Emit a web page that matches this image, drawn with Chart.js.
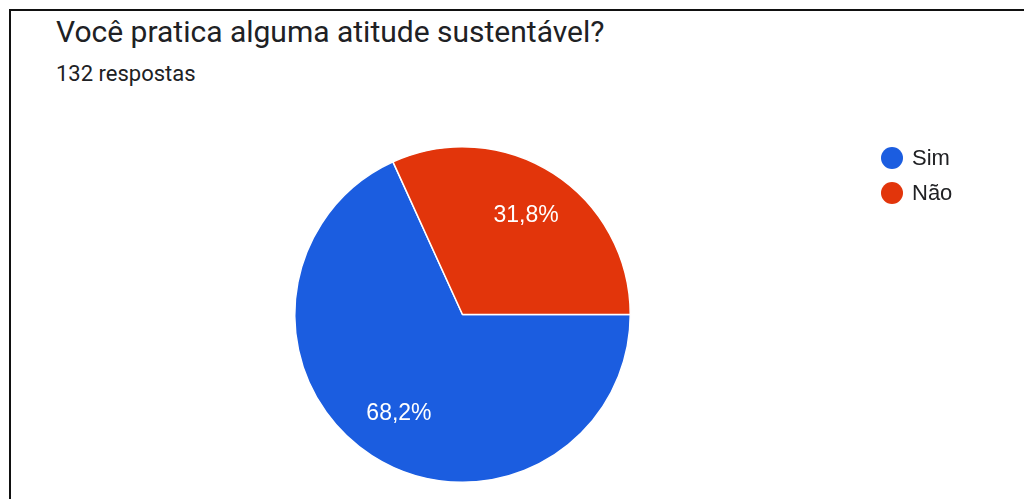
<!DOCTYPE html>
<html><head><meta charset="utf-8">
<script src="https://cdn.jsdelivr.net/npm/chart.js@4"></script>
<style>
html,body{margin:0;padding:0;background:#fff;width:1024px;height:499px;overflow:hidden;font-family:Roboto,"Noto Sans",sans-serif;}
#frame{position:absolute;left:9px;top:9px;width:1030px;height:500px;border-left:2px solid #111;border-top:2px solid #111;box-sizing:border-box;}
#title{position:absolute;left:56px;top:14px;font-size:30px;color:#202124;white-space:nowrap;}
#sub{position:absolute;left:56px;top:61px;font-size:22px;color:#202124;white-space:nowrap;}
#c{position:absolute;left:0;top:0;}
</style></head>
<body>
<div id="frame"></div>
<div id="title">Você pratica alguma atitude sustentável?</div>
<div id="sub">132 respostas</div>
<canvas id="c" width="1024" height="499"></canvas>
<script>
const categories = ["Sim", "Não"];
const percentValues = [68.2, 31.8];
const valueLabels = ["68,2%", "31,8%"];
const sliceColors = ["#1b5de0", "#e2350b"];

const overlay = {
  id: 'overlay',
  afterDatasetsDraw(chart) {
    const ctx = chart.ctx;
    const meta = chart.getDatasetMeta(0);
    ctx.save();
    ctx.font = '23px "Liberation Sans", Arial, sans-serif';
    ctx.fillStyle = '#ffffff';
    ctx.textAlign = 'center';
    ctx.textBaseline = 'middle';
    meta.data.forEach((arc, i) => {
      const ang = (arc.startAngle + arc.endAngle) / 2;
      const r = arc.outerRadius * 0.70;
      ctx.fillText(valueLabels[i], arc.x + Math.cos(ang) * r, arc.y + Math.sin(ang) * r);
    });
    // legend
    ctx.textAlign = 'left';
    ctx.font = '22px "Liberation Sans", Arial, sans-serif';
    categories.forEach((lab, i) => {
      const y = 158 + i * 35;
      ctx.beginPath();
      ctx.arc(892, y, 11, 0, Math.PI * 2);
      ctx.fillStyle = sliceColors[i];
      ctx.fill();
      ctx.fillStyle = '#202124';
      ctx.fillText(lab, 912, y + 1);
    });
    ctx.restore();
  }
};

new Chart(document.getElementById('c'), {
  type: 'pie',
  data: {
    labels: categories,
    datasets: [{
      data: percentValues,
      backgroundColor: sliceColors,
      borderColor: '#ffffff',
      borderWidth: 1.5
    }]
  },
  options: {
    responsive: false,
    animation: false,
    rotation: 90,
    layout: { padding: { left: 294, right: 393, top: 146, bottom: 16 } },
    plugins: { legend: { display: false }, tooltip: { enabled: false }, title: { display: false } }
  },
  plugins: [overlay]
});
</script>
</body></html>
